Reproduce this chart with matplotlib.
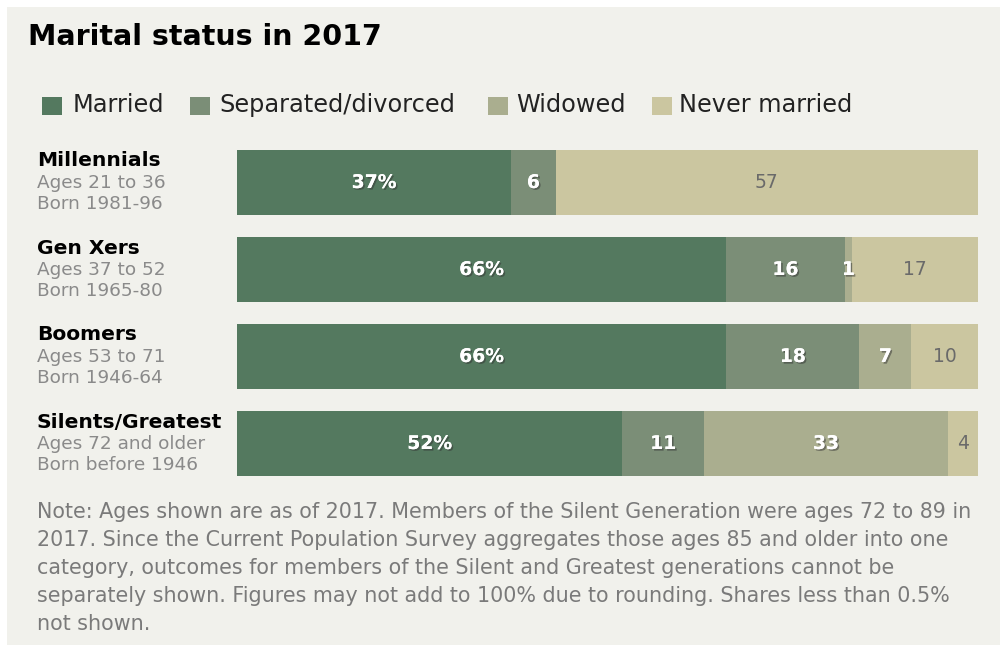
import matplotlib
matplotlib.use("Agg")
import matplotlib.pyplot as plt
import matplotlib.patheffects as pe
from matplotlib.patches import Rectangle

# ---- data ----
generations = ["Millennials", "Gen Xers", "Boomers", "Silents/Greatest"]
ages = ["Ages 21 to 36", "Ages 37 to 52", "Ages 53 to 71", "Ages 72 and older"]
born = ["Born 1981-96", "Born 1965-80", "Born 1946-64", "Born before 1946"]
categories = ["Married", "Separated/divorced", "Widowed", "Never married"]
married = [37, 66, 66, 52]
separated = [6, 16, 18, 11]
widowed = [0, 1, 7, 33]
never_married = [57, 17, 10, 4]

colors = ["#54795f", "#7b8e77", "#aaae8f", "#cbc6a0"]
text_colors = ["white", "white", "white", "#6a6a6a"]
BG = "#f1f1ec"

fig = plt.figure(figsize=(10, 6.5), dpi=100)
fig.patch.set_facecolor("white")
W, H = 1000, 650
def fx(x): return x / W
def fy(y): return 1 - y / H

# background panel
fig.patches.append(Rectangle((fx(7), fy(645)), fx(1000) - fx(7), fy(7) - fy(645),
                             transform=fig.transFigure, facecolor=BG, edgecolor="none", zorder=-5))

# title
fig.text(fx(28), fy(37), "Marital status in 2017", fontsize=20.5, fontweight="bold",
         family="DejaVu Sans", color="black", va="center", ha="left")

# legend
leg_sq_x = [42, 190, 488, 652]
leg_tx_x = [73, 219, 516, 679]
for c, sx, tx, lab in zip(colors, leg_sq_x, leg_tx_x, categories):
    fig.patches.append(Rectangle((fx(sx), fy(115)), fx(20), 18 / H,
                                 transform=fig.transFigure, facecolor=c, edgecolor="none"))
    fig.text(fx(tx), fy(105), lab, fontsize=17.3, family="DejaVu Sans", color="#222222",
             va="center", ha="left")

# bars
h = 65 / 87
ax = fig.add_axes([fx(237), fy(476), fx(978) - fx(237), (476 - 150) / H])
ax.set_zorder(5)
ax.set_facecolor("none")
ypos = list(range(len(generations)))
series = [married, separated, widowed, never_married]
left = [0] * len(generations)
shadow = [pe.withSimplePatchShadow(offset=(1.2, -1.2), shadow_rgbFace="#333333", alpha=0.5), pe.Normal()]
for si, vals in enumerate(series):
    ax.barh(ypos, vals, left=left, height=h, color=colors[si], edgecolor="none")
    for i, (v, l) in enumerate(zip(vals, left)):
        if v <= 0:
            continue
        lab = f"{v}%" if si == 0 else f"{v}"
        cx = (l + min(l + v, 100)) / 2
        ax.text(cx, i, lab, ha="center", va="center", fontsize=13.5,
                fontweight="bold" if si < 3 else "normal",
                color=text_colors[si], family="DejaVu Sans",
                path_effects=shadow if si < 3 else None)
    left = [a + b for a, b in zip(left, vals)]
ax.set_xlim(0, 100)
ax.set_ylim(3 + h / 2, -h / 2)
ax.axis("off")

# category labels
for i, (g, a, b) in enumerate(zip(generations, ages, born)):
    ytop = 150 + i * 87
    fig.text(fx(37), fy(ytop + 11), g, fontsize=14.6, fontweight="bold", family="DejaVu Sans",
             color="black", va="center", ha="left")
    fig.text(fx(37), fy(ytop + 33), a, fontsize=13.3, family="DejaVu Sans",
             color="#8a8a8a", va="center", ha="left")
    fig.text(fx(37), fy(ytop + 54), b, fontsize=13.3, family="DejaVu Sans",
             color="#8a8a8a", va="center", ha="left")

note_lines = [
    "Note: Ages shown are as of 2017. Members of the Silent Generation were ages 72 to 89 in",
    "2017. Since the Current Population Survey aggregates those ages 85 and older into one",
    "category, outcomes for members of the Silent and Greatest generations cannot be",
    "separately shown. Figures may not add to 100% due to rounding. Shares less than 0.5%",
    "not shown.",
]
for k, line in enumerate(note_lines):
    fig.text(fx(37), fy(512 + k * 28), line, fontsize=14.9,
             family="DejaVu Sans", color="#7a7a7a",
             va="center", ha="left")

fig.savefig("out.png", dpi=100, facecolor="white")
